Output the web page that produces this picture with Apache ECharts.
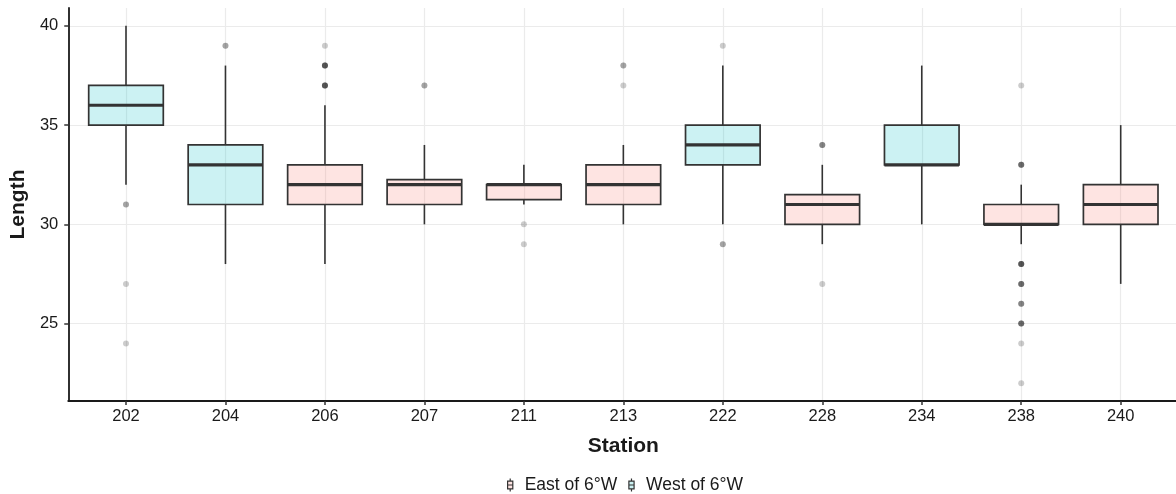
<!DOCTYPE html>
<html>
<head>
<meta charset="utf-8">
<script src="https://cdn.jsdelivr.net/npm/echarts@6/dist/echarts.min.js"></script>
<style>
  html, body { margin: 0; padding: 0; background: #fff; }
  #chart { width: 1176px; height: 494px; }
</style>
</head>
<body>
<div id="chart"></div>
<script>
// stations and which side of 6°W they lie
const stations = ['202', '204', '206', '207', '211', '213', '222', '228', '234', '238', '240'];
const sides = ['West', 'West', 'East', 'East', 'East', 'East', 'West', 'East', 'West', 'East', 'East'];

// box statistics per station
const whiskerLow = [32, 28, 28, 30, 31, 30, 30, 29, 30, 29, 27];
const q1 = [35, 31, 31, 31, 31.25, 31, 33, 30, 33, 30, 30];
const median = [36, 33, 32, 32, 32, 32, 34, 31, 33, 30, 31];
const q3 = [37, 34, 33, 32.25, 32, 33, 35, 31.5, 35, 31, 32];
const whiskerHigh = [40, 38, 36, 34, 33, 34, 38, 33, 38, 32, 35];

// outlying fish (repeats = overlapping points)
const outliers = [
  ['202', 31], ['202', 31], ['202', 27], ['202', 24],
  ['204', 39], ['204', 39],
  ['206', 39],
  ['206', 38], ['206', 38], ['206', 38], ['206', 38], ['206', 38],
  ['206', 37], ['206', 37], ['206', 37], ['206', 37], ['206', 37],
  ['207', 37], ['207', 37],
  ['211', 30], ['211', 29],
  ['213', 38], ['213', 38], ['213', 37],
  ['222', 39], ['222', 29], ['222', 29],
  ['228', 34], ['228', 34], ['228', 34], ['228', 27],
  ['238', 37],
  ['238', 33], ['238', 33], ['238', 33], ['238', 33],
  ['238', 28], ['238', 28], ['238', 28], ['238', 28], ['238', 28],
  ['238', 27], ['238', 27], ['238', 27], ['238', 27],
  ['238', 26], ['238', 26], ['238', 26],
  ['238', 25], ['238', 25], ['238', 25], ['238', 25],
  ['238', 24], ['238', 22]
];

const yTicks = [25, 30, 35, 40];
const yMin = 21.1, yMax = 40.9;

const legendNames = { East: 'East of 6°W', West: 'West of 6°W' };
const fills = { East: 'rgba(248,118,109,0.2)', West: 'rgba(0,191,196,0.2)' };
const ink = '#333333';
const gridColor = '#ebebeb';
const textColor = '#1a1a1a';
const boxIcon = 'path://M3,0L3,3M0,3L6,3L6,12L0,12ZM0,7.5L6,7.5M3,12L3,15';

function boxData(side) {
  const out = [];
  stations.forEach((s, i) => {
    if (sides[i] === side) out.push([s, whiskerLow[i], q1[i], median[i], q3[i], whiskerHigh[i]]);
  });
  return out;
}

function renderBox(params, api) {
  const x = api.value(0);
  const w = api.size([1, 0])[0] * 0.75;
  const lo = api.coord([x, api.value(1)]);
  const b1 = api.coord([x, api.value(2)]);
  const md = api.coord([x, api.value(3)]);
  const b3 = api.coord([x, api.value(4)]);
  const hi = api.coord([x, api.value(5)]);
  const cx = md[0];
  const line = { stroke: ink, lineWidth: 1.6 };
  return {
    type: 'group',
    children: [
      { type: 'line', shape: { x1: cx, y1: b3[1], x2: cx, y2: hi[1] }, style: line },
      { type: 'line', shape: { x1: cx, y1: b1[1], x2: cx, y2: lo[1] }, style: line },
      {
        type: 'rect',
        shape: { x: cx - w / 2, y: b3[1], width: w, height: b1[1] - b3[1] },
        style: { fill: api.visual('color'), stroke: ink, lineWidth: 1.7 }
      },
      { type: 'line', shape: { x1: cx - w / 2, y1: md[1], x2: cx + w / 2, y2: md[1] }, style: { stroke: ink, lineWidth: 3.2 } }
    ]
  };
}

const chart = echarts.init(document.getElementById('chart'));
chart.setOption({
  animation: false,
  textStyle: { fontFamily: '"Liberation Sans", Arial, sans-serif' },
  grid: [
    { left: 67, right: -4, top: 8, bottom: 93 },
    { left: 126, right: 55.3, top: 8, bottom: 93 }
  ],
  xAxis: [{
    gridIndex: 0,
    type: 'value', min: 0, max: 1,
    axisLine: { show: true, lineStyle: { color: '#1a1a1a', width: 1.8 } },
    axisTick: { show: false },
    axisLabel: { show: false },
    splitLine: { show: false }
  }, {
    gridIndex: 1,
    type: 'category',
    data: stations,
    boundaryGap: false,
    name: 'Station',
    nameLocation: 'middle',
    nameGap: 35,
    nameTextStyle: { fontSize: 21, fontWeight: 'bold', color: textColor },
    axisLine: { show: false },
    axisTick: { show: true, length: 4, lineStyle: { color: ink, width: 1.5 } },
    axisLabel: { fontSize: 16.5, color: textColor, margin: 7 },
    splitLine: { show: true, lineStyle: { color: gridColor, width: 1.2 } }
  }],
  yAxis: [{
    gridIndex: 0,
    type: 'value', min: yMin, max: yMax,
    name: 'Length',
    nameLocation: 'middle',
    nameGap: 38,
    nameTextStyle: { fontSize: 21, fontWeight: 'bold', color: textColor },
    axisLine: { show: true, lineStyle: { color: '#1a1a1a', width: 1.8 } },
    axisTick: { show: true, length: 4, customValues: yTicks, lineStyle: { color: ink, width: 1.5 } },
    axisLabel: { fontSize: 16.5, color: textColor, margin: 10, customValues: yTicks },
    splitLine: { show: true, lineStyle: { color: gridColor, width: 1.2 } }
  }, {
    gridIndex: 1,
    type: 'value', min: yMin, max: yMax,
    show: false
  }],
  legend: {
    left: 502, top: 471,
    itemWidth: 19, itemHeight: 13, itemGap: 11,
    textStyle: { fontSize: 17.5, color: textColor },
    data: ['East', 'West'].map(s => ({
      name: legendNames[s],
      icon: boxIcon,
      itemStyle: { color: fills[s], borderColor: ink, borderWidth: 1.2 }
    }))
  },
  series: [
    ...['East', 'West'].map(s => ({
      name: legendNames[s],
      type: 'custom',
      xAxisIndex: 1, yAxisIndex: 1,
      itemStyle: { color: fills[s] },
      encode: { x: 0, y: [1, 2, 3, 4, 5] },
      renderItem: renderBox,
      data: boxData(s)
    })),
    {
      type: 'scatter',
      xAxisIndex: 1, yAxisIndex: 1,
      symbolSize: 6,
      itemStyle: { color: '#000', opacity: 0.2 },
      data: outliers
    }
  ]
});
</script>
</body>
</html>
